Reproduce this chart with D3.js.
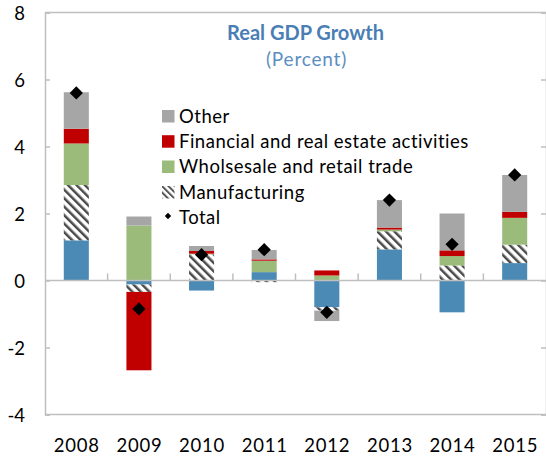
<!DOCTYPE html>
<html>
<head>
<meta charset="utf-8">
<script src="https://cdn.jsdelivr.net/npm/d3@7"></script>
<style>
  html, body { margin: 0; padding: 0; background: #fff; }
  svg { display: block; font-family: Lato, "Open Sans", sans-serif; }
</style>
</head>
<body>
<svg id="chart" width="546" height="458"></svg>
<script>
// ---- data ----
const years = ["2008", "2009", "2010", "2011", "2012", "2013", "2014", "2015"];
const seriesKeys = ["base", "manufacturing", "wholesale", "financial", "other"];
const base          = [1.20, -0.12, -0.30, 0.25, -0.80, 0.93, -0.95, 0.52];
const manufacturing = [1.65, -0.22,  0.78, -0.05, -0.10, 0.54, 0.45, 0.55];
const wholesale     = [1.24,  1.64,  0.02, 0.34,  0.15, 0.05, 0.28, 0.80];
const financial     = [0.44, -2.34,  0.08, 0.04,  0.15, 0.06, 0.17, 0.18];
const other         = [1.09,  0.27,  0.15, 0.28, -0.31, 0.82, 1.10, 1.10];
const total         = [5.60, -0.85,  0.77, 0.92, -0.95, 2.40, 1.08, 3.15];
const yTicks = [-4, -2, 0, 2, 4, 6, 8];
const legendLabels = ["Other", "Financial and real estate activities", "Wholsesale and retail trade", "Manufacturing", "Total"];
const titleText = "Real GDP Growth";
const subtitleText = "(Percent)";

(function () {
// ---- setup ----
const svg = d3.select("#chart");
const pLeft = 45, pRight = 546, pTop = 12.5, pBottom = 414.5;
const axisColor = "#bfbfbf";

const x = d3.scaleBand().domain(years).range([pLeft, pRight]).paddingInner(0.6).paddingOuter(0.3);
const y = d3.scaleLinear().domain([-4, 8]).range([pBottom, pTop]);

const colors = {
  base: "#4a8ab5",
  manufacturing: "url(#hatch)",
  wholesale: "#9bbb7b",
  financial: "#c00000",
  other: "#a6a6a6"
};

// hatch pattern
const defs = svg.append("defs");
const pat = defs.append("pattern")
  .attr("id", "hatch").attr("patternUnits", "userSpaceOnUse")
  .attr("width", 6).attr("height", 6)
  .attr("patternTransform", "rotate(-45)");
pat.append("rect").attr("width", 6).attr("height", 6).attr("fill", "#fff");
pat.append("rect").attr("x", 0).attr("width", 2.5).attr("height", 6).attr("fill", "#4a4a4a");

const pat2 = defs.append("pattern")
  .attr("id", "hatchSmall").attr("patternUnits", "userSpaceOnUse")
  .attr("width", 4.5).attr("height", 4.5)
  .attr("patternTransform", "rotate(-45)");
pat2.append("rect").attr("width", 4.5).attr("height", 4.5).attr("fill", "#fff");
pat2.append("rect").attr("x", 0).attr("width", 2).attr("height", 4.5).attr("fill", "#555");

// table for stack
const table = years.map((yr, i) => ({
  year: yr, base: base[i], manufacturing: manufacturing[i], wholesale: wholesale[i],
  financial: financial[i], other: other[i], total: total[i]
}));

const stack = d3.stack().keys(seriesKeys).offset(d3.stackOffsetDiverging);
const stacked = stack(table);

// frame
svg.append("line").attr("x1", pLeft).attr("x2", pRight).attr("y1", pTop).attr("y2", pTop)
  .attr("stroke", axisColor).attr("stroke-width", 1.5);
svg.append("line").attr("x1", pLeft).attr("x2", pRight).attr("y1", pBottom).attr("y2", pBottom)
  .attr("stroke", axisColor).attr("stroke-width", 1.5);

// left axis with inward ticks
const yAxisL = svg.append("g").attr("transform", `translate(${pLeft},0)`)
  .call(d3.axisRight(y).tickValues(yTicks).tickSize(5).tickFormat(""));
yAxisL.select(".domain").attr("stroke", axisColor).attr("stroke-width", 1.5);
yAxisL.selectAll(".tick line").attr("stroke", axisColor).attr("stroke-width", 1.5);

const yAxisR = svg.append("g").attr("transform", `translate(${pRight},0)`)
  .call(d3.axisLeft(y).tickValues(yTicks).tickSize(5).tickFormat(""));
yAxisR.select(".domain").attr("stroke", axisColor).attr("stroke-width", 1.5);
yAxisR.selectAll(".tick line").attr("stroke", axisColor).attr("stroke-width", 1.5);

// y tick labels
svg.append("g").selectAll("text").data(yTicks).join("text")
  .attr("x", 25).attr("y", d => y(d) + 1).attr("dy", "0.36em")
  .attr("text-anchor", "end").attr("font-size", 18.5).attr("fill", "#000")
  .text(d => d);

// bars
svg.append("g").selectAll("g").data(stacked).join("g")
  .attr("fill", d => colors[d.key])
  .selectAll("rect").data(d => d).join("rect")
  .attr("x", d => x(d.data.year))
  .attr("width", x.bandwidth())
  .attr("y", d => y(Math.max(d[0], d[1])))
  .attr("height", d => Math.abs(y(d[0]) - y(d[1])));

// zero line with category-boundary ticks pointing up
svg.append("line").attr("x1", pLeft).attr("x2", pRight).attr("y1", y(0)).attr("y2", y(0))
  .attr("stroke", axisColor).attr("stroke-width", 1.5);
const step = x.step();
svg.append("g").selectAll("line").data(years.slice(1)).join("line")
  .attr("x1", d => x(d) - (step - x.bandwidth()) / 2)
  .attr("x2", d => x(d) - (step - x.bandwidth()) / 2)
  .attr("y1", y(0)).attr("y2", y(0) - 7)
  .attr("stroke", axisColor).attr("stroke-width", 1.5);

// total diamonds
svg.append("g").selectAll("path").data(table).join("path")
  .attr("d", d3.symbol(d3.symbolSquare, 88))
  .attr("transform", d => `translate(${x(d.year) + x.bandwidth() / 2},${y(d.total)}) rotate(45)`)
  .attr("fill", "#000");

// x labels
svg.append("g").selectAll("text").data(years).join("text")
  .attr("x", d => x(d) + x.bandwidth() / 2 + 0.5).attr("y", 452)
  .attr("text-anchor", "middle").attr("font-size", 18.5).attr("letter-spacing", 0.8)
  .attr("fill", "#000")
  .text(d => d);

// title
svg.append("text").attr("x", 305.5).attr("y", 40).attr("text-anchor", "middle")
  .attr("font-size", 20).attr("font-weight", "bold").attr("fill", "#4a7eb4")
  .text(titleText);
svg.append("text").attr("x", 306.5).attr("y", 66).attr("text-anchor", "middle")
  .attr("font-size", 19).attr("letter-spacing", 0.8).attr("fill", "#5b8ec2")
  .text(subtitleText);

// legend
const legendFills = [colors.other, colors.financial, colors.wholesale, "url(#hatchSmall)", null];
const legendBaselines = [122.5, 147.7, 173, 198.5, 224];
const lg = svg.append("g");
legendLabels.forEach((lab, i) => {
  const yb = legendBaselines[i];
  if (legendFills[i]) {
    lg.append("rect").attr("x", 162).attr("y", yb - 12.5).attr("width", 12.5).attr("height", 12.5)
      .attr("fill", legendFills[i]);
  } else {
    lg.append("path").attr("d", d3.symbol(d3.symbolSquare, 20))
      .attr("transform", `translate(168,${yb - 8}) rotate(45)`).attr("fill", "#000");
  }
  lg.append("text").attr("x", 179).attr("y", yb).attr("font-size", 18.5)
    .attr("letter-spacing", 0.5).attr("fill", "#000").text(lab);
});
})();
</script>
</body>
</html>
